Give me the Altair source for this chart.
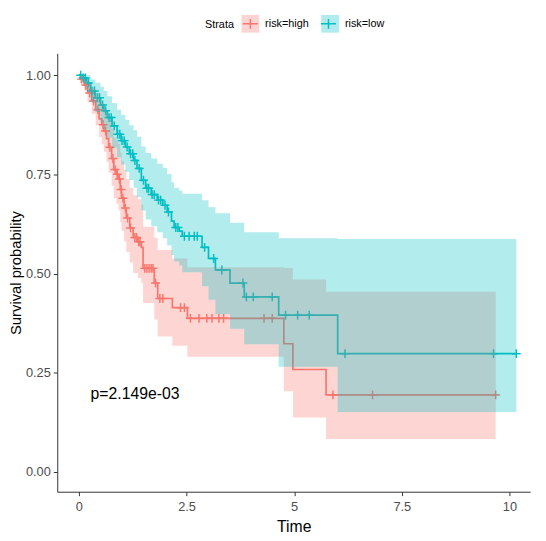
import altair as alt
import numpy as np
import pandas as pd

FONT = "Liberation Sans"
strata = ["risk=high", "risk=low"]
colors = ["#F8766D", "#00BFC4"]
pval_text = ["p=2.149e-03"]
pval_x = [0.27]
pval_y = [0.195]
x_ticks = [0, 2.5, 5, 7.5, 10]
y_ticks = [0, 0.25, 0.5, 0.75, 1.0]

# risk=high : step times, survival, upper / lower confidence bounds
high_time = [0, 0.03, 0.12, 0.2, 0.3, 0.39, 0.47, 0.53, 0.58, 0.64, 0.69, 0.76, 0.81, 0.87, 0.92, 0.96,
             0.99, 1.05, 1.1, 1.18, 1.26, 1.37, 1.45, 1.49, 1.75, 1.83, 2.17, 2.52, 4.76, 4.97, 5.74, 9.68]
high_surv = [1.0, 0.99, 0.975, 0.955, 0.935, 0.913, 0.89, 0.875, 0.859, 0.84, 0.818, 0.79, 0.762, 0.75, 0.738, 0.712,
             0.69, 0.665, 0.64, 0.615, 0.591, 0.58, 0.566, 0.513, 0.476, 0.437, 0.414, 0.387, 0.323, 0.258, 0.194, 0.194]
high_upper = [1.0, 1.0, 0.99, 0.979, 0.968, 0.954, 0.939, 0.928, 0.915, 0.903, 0.888, 0.865, 0.842, 0.833, 0.827, 0.805,
              0.783, 0.761, 0.739, 0.716, 0.697, 0.687, 0.674, 0.618, 0.59, 0.559, 0.538, 0.516, 0.514, 0.485, 0.454, 0.454]
high_lower = [1.0, 0.98, 0.961, 0.932, 0.903, 0.874, 0.844, 0.825, 0.807, 0.781, 0.754, 0.721, 0.69, 0.676, 0.659, 0.63,
              0.608, 0.581, 0.554, 0.528, 0.501, 0.489, 0.476, 0.426, 0.384, 0.341, 0.318, 0.29, 0.203, 0.137, 0.083, 0.083]
high_censor = [0.06, 0.16, 0.25, 0.34, 0.44, 0.56, 0.62, 0.72, 0.79, 0.84, 0.89, 0.94, 0.98, 1.02, 1.08, 1.13, 1.2,
               1.3, 1.34, 1.39, 1.42, 1.53, 1.58, 1.63, 1.68, 1.72, 1.78, 1.88, 1.95, 2.36, 2.45, 2.59, 2.79, 2.97,
               3.09, 3.25, 3.36, 4.3, 4.49, 5.9, 6.82, 9.68]

# risk=low
low_time = [0, 0.08, 0.18, 0.27, 0.38, 0.5, 0.58, 0.66, 0.77, 0.885, 0.98, 1.08, 1.17, 1.27, 1.35, 1.45, 1.55,
            1.68, 1.82, 1.95, 2.05, 2.15, 2.21, 2.33, 2.4, 2.86, 3.01, 3.17, 3.51, 3.84, 4.64, 6.01, 10.16]
low_surv = [1.0, 0.993, 0.98, 0.96, 0.943, 0.925, 0.91, 0.893, 0.872, 0.851, 0.835, 0.819, 0.802, 0.785, 0.765, 0.735,
            0.715, 0.699, 0.685, 0.672, 0.655, 0.632, 0.616, 0.607, 0.594, 0.566, 0.538, 0.509, 0.476, 0.441, 0.395,
            0.298, 0.298]
low_upper = [1.0, 1.0, 1.0, 0.989, 0.981, 0.971, 0.96, 0.947, 0.93, 0.913, 0.9, 0.887, 0.874, 0.861, 0.845, 0.82,
             0.804, 0.79, 0.777, 0.766, 0.751, 0.73, 0.716, 0.709, 0.701, 0.685, 0.667, 0.652, 0.628, 0.604, 0.589,
             0.587, 0.587]
low_lower = [1.0, 0.983, 0.961, 0.932, 0.907, 0.881, 0.863, 0.842, 0.817, 0.793, 0.775, 0.756, 0.736, 0.716, 0.692,
             0.659, 0.636, 0.619, 0.604, 0.589, 0.571, 0.547, 0.53, 0.52, 0.503, 0.468, 0.434, 0.398, 0.361, 0.322,
             0.265, 0.151, 0.151]
low_censor = [0.04, 0.1, 0.15, 0.22, 0.3, 0.36, 0.43, 0.48, 0.55, 0.62, 0.7, 0.75, 0.82, 0.9, 0.95, 1.0, 1.05, 1.12,
              1.2, 1.25, 1.3, 1.4, 1.5, 1.58, 1.62, 1.7, 1.75, 1.85, 1.9, 2.0, 2.08, 2.25, 2.3, 2.45, 2.56, 2.68, 2.75,
              2.92, 3.13, 3.32, 3.81, 3.89, 4.05, 4.49, 4.8, 5.08, 5.35, 6.18, 9.63, 10.16]

groups = [
    (strata[0], high_time, high_surv, high_upper, high_lower, high_censor),
    (strata[1], low_time, low_surv, low_upper, low_lower, low_censor),
]

curve_frames, cens_frames = [], []
for name, t, s, up, lo, cen in groups:
    curve_frames.append(pd.DataFrame({"strata": name, "time": t, "surv": s, "upper": up, "lower": lo}))
    idx = np.searchsorted(np.array(t), np.array(cen), side="right") - 1
    cens_frames.append(pd.DataFrame({"strata": name, "time": cen, "surv": np.array(s)[idx]}))
curves = pd.concat(curve_frames, ignore_index=True)
cens = pd.concat(cens_frames, ignore_index=True)
ptxt = pd.DataFrame({"x": pval_x, "y": pval_y, "label": pval_text})

x_scale = alt.Scale(domain=[-0.503, 10.48], nice=False, zero=False)
y_scale = alt.Scale(domain=[-0.05, 1.055], nice=False, zero=False)
x_axis = alt.Axis(values=x_ticks, format=".1~f", title="Time", labelPadding=5, titlePadding=5)
y_axis = alt.Axis(values=y_ticks, format=".2f", title="Survival probability", labelPadding=3,
                  titlePadding=2, titleFontSize=15)

LEG_X = 150
LEG_Y = -40
TITLE_W = 30      # ceil(width of "Strata")
TITLE_PAD = 6
LABEL_W = 44.32   # width of "risk=high"
COL_PAD = 9
legend_common = dict(
    orient="none", legendY=LEG_Y, direction="horizontal",
    labelFontSize=11, labelFont=FONT, labelColor="black",
    labelOffset=5, symbolSize=324, symbolStrokeWidth=1.5, padding=0,
)

PLUS = "M-1,0H1M0,-1V1"
LEG_PLUS = "M-0.85,0H0.85M0,-0.55V0.55"

lines = alt.Chart(curves).mark_line(interpolate="step-after", strokeWidth=1.7).encode(
    x=alt.X("time:Q", scale=x_scale, axis=x_axis),
    y=alt.Y("surv:Q", scale=y_scale, axis=y_axis),
    stroke=alt.Stroke("strata:N", scale=alt.Scale(range=colors),
                      legend=alt.Legend(symbolType=LEG_PLUS, symbolFillColor="transparent",
                                        title=None, labelExpr="''", legendX=LEG_X + TITLE_W + TITLE_PAD,
                                        columnPadding=COL_PAD + LABEL_W, **legend_common)),
)

points = alt.Chart(cens).mark_point(shape=PLUS, size=81, strokeWidth=1.5, filled=False, opacity=1).encode(
    x=alt.X("time:Q", scale=x_scale, axis=x_axis),
    y=alt.Y("surv:Q", scale=y_scale, axis=y_axis),
    stroke=alt.Stroke("strata:N", legend=None),
)

areas = alt.Chart(curves).mark_area(interpolate="step-after", opacity=0.3).encode(
    x=alt.X("time:Q", scale=x_scale, axis=x_axis),
    y=alt.Y("lower:Q", scale=y_scale, axis=y_axis),
    y2="upper:Q",
    fill=alt.Fill("strata:N", scale=alt.Scale(domain=strata, range=colors),
                  legend=alt.Legend(symbolType="square", symbolOpacity=0.3, symbolStrokeColor="transparent",
                                    title="Strata", titleOrient="left", titleAlign="left", titleFontSize=11,
                                    titleFontWeight="normal", titleColor="black", titleFont=FONT,
                                    titlePadding=TITLE_PAD, legendX=LEG_X, columnPadding=COL_PAD,
                                    **legend_common)),
)

ptext = alt.Chart(ptxt).mark_text(align="left", baseline="middle", fontSize=16, font=FONT, color="black").encode(
    x=alt.X("x:Q", scale=x_scale, axis=x_axis),
    y=alt.Y("y:Q", scale=y_scale, axis=y_axis),
    text="label:N",
)

chart = alt.layer(lines, points, areas, ptext).properties(
    width=480, height=445,
    autosize=alt.AutoSizeParams(type="none"),
    padding={"left": 50, "top": 42, "right": 8, "bottom": 46},
).configure_view(stroke=None).configure_axis(
    grid=False, domainColor="#333333", domainWidth=1, tickColor="#333333", tickSize=4, tickWidth=1,
    labelFont=FONT, labelFontSize=13, labelColor="#4D4D4D",
    titleFont=FONT, titleFontSize=16, titleFontWeight="normal", titleColor="black",
)

chart.save("out.html", embed_options={"renderer": "svg", "actions": False})
